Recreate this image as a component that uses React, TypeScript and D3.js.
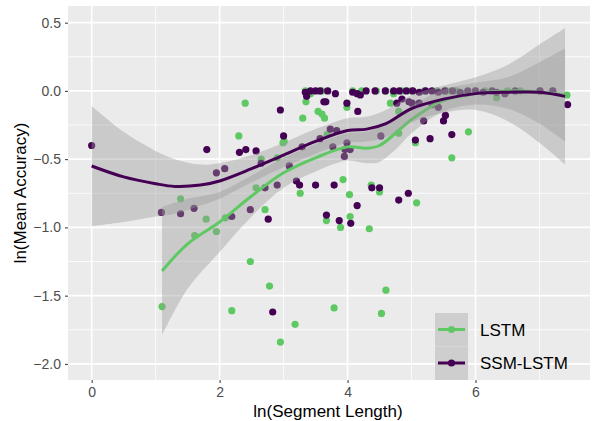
import { useEffect, useRef } from "react";
import * as d3 from "d3";

// scatter points
const lstmX = [1.10, 1.39, 1.61, 1.79, 1.95, 2.09, 2.19, 2.30, 2.40, 2.48, 2.57, 2.65, 2.71, 2.78, 2.90, 2.95, 2.99, 3.01, 3.18, 3.26, 3.30, 3.35, 3.54, 3.60, 3.64, 3.67, 3.68, 3.79, 3.89, 3.93, 3.99, 4.03, 4.04, 4.34, 4.37, 4.50, 4.53, 4.60, 4.67, 4.80, 4.80, 5.06, 5.08, 5.63, 5.89, 6.33, 7.43,
  3.34, 3.42, 3.60, 4.08, 4.22, 4.45, 4.60, 4.72, 4.85, 5.00, 5.20, 5.40, 5.55, 5.70, 5.85, 6.00, 6.15, 6.50, 6.70, 7.00, 7.20];
const lstmY = [-1.58, -0.79, -1.06, -0.94, -1.03, -0.93, -1.61, -0.33, -0.09, -1.25, -0.71, -0.50, -0.87, -1.43, -0.49, -1.84, -0.38, -0.37, -1.71, -0.75, -0.20, -0.08, -0.15, -0.17, -0.20, -0.95, -0.32, -1.59, -1.00, -0.65, -0.12, -0.76, -0.92, -1.01, -0.69, -0.74, -1.63, -1.46, -0.09, -0.31, -0.15, -0.38, -0.82, -0.49, -0.30, -0.05, -0.03,
  0, -0.02, 0, 0, 0, 0, 0, -0.02, 0, 0, 0, 0, 0, 0, -0.02, 0, 0, 0, 0, 0, 0];

const ssmX = [0, 1.09, 1.39, 1.60, 1.80, 1.95, 2.08, 2.31, 2.41, 2.57, 2.65, 2.19, 2.48, 2.76, 2.71, 2.90, 2.95, 3.00, 2.83, 3.09, 3.20, 3.25, 3.50, 3.79, 3.67, 3.87, 4.05, 4.15, 4.38, 4.50, 4.80, 4.95,
  3.34, 3.42, 3.50, 3.57, 3.69, 3.81, 3.36, 3.63, 3.66, 3.99, 4.16, 4.08, 4.15, 4.20, 4.29, 4.43, 4.59, 4.72, 4.81, 4.77, 4.85,
  3.73, 3.83, 3.77, 3.95, 3.96, 4.04, 3.99, 4.52, 3.29, 3.57,
  4.92, 5.02, 5.12, 5.22, 5.32, 5.42, 5.52, 5.64, 5.76, 5.88, 6.00, 6.12, 6.26,
  4.96, 5.01, 5.12, 5.32, 5.42, 5.19, 5.53, 5.50, 5.06, 5.29, 5.63,
  6.33, 6.46, 6.62, 7.01, 7.21, 7.44];
const ssmY = [-0.40, -0.89, -0.90, -0.86, -0.43, -0.60, -0.57, -0.45, -0.43, -0.44, -0.53, -0.92, -0.87, -0.94, -0.71, -0.69, -0.14, -0.33, -1.62, -0.55, -0.66, -0.69, -0.69, -0.69, -0.91, -0.95, -0.97, -0.84, -0.71, -0.71, -0.80, -0.75,
  -0.01, 0, 0, 0, 0, -0.02, -0.04, -0.08, -0.08, -0.09, -0.15, -0.01, -0.02, -0.03, 0, 0, 0, 0, 0, -0.09, -0.06,
  -0.28, -0.29, -0.41, -0.48, -0.43, -0.43, -0.38, -0.33, -0.41, -0.35,
  0, 0, -0.01, 0, 0, -0.01, 0, 0, -0.01, 0, 0, -0.01, 0,
  -0.08, -0.09, -0.09, -0.10, -0.12, -0.22, -0.18, -0.22, -0.36, -0.35, -0.32,
  -0.01, -0.02, 0, 0, 0, -0.10];

// loess fits and confidence bands
const lstmFitX = [1.1, 1.5, 2, 2.5, 3, 3.5, 4, 4.3, 4.5, 4.75, 5, 5.5, 6, 6.5, 7, 7.4];
const lstmFit = [-1.32, -1.12, -0.96, -0.77, -0.60, -0.49, -0.41, -0.42, -0.40, -0.31, -0.21, -0.07, -0.02, 0.0, -0.01, -0.03];
const lstmLo = [-1.79, -1.45, -1.18, -0.92, -0.71, -0.59, -0.51, -0.53, -0.52, -0.43, -0.31, -0.15, -0.10, -0.13, -0.24, -0.37];
const lstmHi = [-0.85, -0.79, -0.74, -0.62, -0.49, -0.39, -0.31, -0.30, -0.26, -0.19, -0.11, 0.01, 0.06, 0.10, 0.21, 0.31];

const ssmFitX = [0, 0.5, 1, 1.3, 1.7, 2, 2.5, 3, 3.5, 4, 4.3, 4.6, 5, 5.5, 6, 6.5, 7, 7.4];
const ssmFit = [-0.55, -0.63, -0.68, -0.70, -0.69, -0.66, -0.57, -0.47, -0.37, -0.29, -0.28, -0.24, -0.13, -0.06, -0.02, -0.01, -0.01, -0.04];
const ssmLo = [-0.99, -0.96, -0.92, -0.90, -0.84, -0.79, -0.67, -0.56, -0.46, -0.38, -0.37, -0.34, -0.23, -0.16, -0.14, -0.22, -0.38, -0.54];
const ssmHi = [-0.11, -0.30, -0.44, -0.50, -0.54, -0.53, -0.47, -0.38, -0.28, -0.20, -0.19, -0.14, -0.03, 0.04, 0.10, 0.19, 0.34, 0.46];

const xTicks = [0, 2, 4, 6];
const xMinor = [1, 3, 5, 7];
const yTicks = [-2.0, -1.5, -1.0, -0.5, 0.0, 0.5];
const yMinor = [-1.75, -1.25, -0.75, -0.25, 0.25];

const seriesNames = ["LSTM", "SSM-LSTM"];
const seriesColors = ["#5ec962", "#440154"];

const App = () => {
  const svgRef = useRef<SVGSVGElement>(null);

  useEffect(() => {
    const svg = d3.select(svgRef.current);
    svg.selectAll("*").remove();
    const font = "Liberation Sans, Arial, Helvetica, sans-serif";

    const left = 68, right = 590, top = 6, bottom = 380;
    const x = d3.scaleLinear().domain([-0.37, 7.79]).range([left, right]);
    const y = d3.scaleLinear().domain([-2.118, 0.622]).range([bottom, top]);

    svg.append("rect").attr("width", 594).attr("height", 421).attr("fill", "#fff");
    svg.append("rect")
      .attr("x", left).attr("y", top)
      .attr("width", right - left).attr("height", bottom - top)
      .attr("fill", "#ebebeb");

    // grid
    const grid = svg.append("g");
    grid.selectAll(".xm").data(xMinor).join("line")
      .attr("x1", d => x(d)).attr("x2", d => x(d)).attr("y1", top).attr("y2", bottom)
      .attr("stroke", "#fff").attr("stroke-width", 0.8);
    grid.selectAll(".ym").data(yMinor).join("line")
      .attr("y1", d => y(d)).attr("y2", d => y(d)).attr("x1", left).attr("x2", right)
      .attr("stroke", "#fff").attr("stroke-width", 0.8);
    grid.selectAll(".xM").data(xTicks).join("line")
      .attr("x1", d => x(d)).attr("x2", d => x(d)).attr("y1", top).attr("y2", bottom)
      .attr("stroke", "#fff").attr("stroke-width", 1.6);
    grid.selectAll(".yM").data(yTicks).join("line")
      .attr("y1", d => y(d)).attr("y2", d => y(d)).attr("x1", left).attr("x2", right)
      .attr("stroke", "#fff").attr("stroke-width", 1.6);

    // points: LSTM first, SSM-LSTM on top
    const pts = svg.append("g");
    pts.selectAll(".p0").data(lstmX).join("circle")
      .attr("cx", d => x(d)).attr("cy", (d, i) => y(lstmY[i])).attr("r", 3.6)
      .attr("fill", seriesColors[0]);
    pts.selectAll(".p1").data(ssmX).join("circle")
      .attr("cx", d => x(d)).attr("cy", (d, i) => y(ssmY[i])).attr("r", 3.6)
      .attr("fill", seriesColors[1]);

    // smooths: ribbon then line per group
    const groups = [
      { fx: lstmFitX, fit: lstmFit, lo: lstmLo, hi: lstmHi },
      { fx: ssmFitX, fit: ssmFit, lo: ssmLo, hi: ssmHi },
    ];
    groups.forEach((g, k) => {
      const area = d3.area<number>()
        .x(d => x(d))
        .y0((d, i) => y(g.lo[i]))
        .y1((d, i) => y(g.hi[i]))
        .curve(d3.curveCatmullRom);
      svg.append("path").attr("d", area(g.fx))
        .attr("fill", "#999999").attr("fill-opacity", 0.4);
      const line = d3.line<number>()
        .x(d => x(d))
        .y((d, i) => y(g.fit[i]))
        .curve(d3.curveCatmullRom);
      svg.append("path").attr("d", line(g.fx))
        .attr("fill", "none").attr("stroke", seriesColors[k])
        .attr("stroke-width", 3);
    });

    // axes
    const xAxis = d3.axisBottom(x).tickValues(xTicks).tickSize(3).tickPadding(4).tickFormat(d3.format("d"));
    const gx = svg.append("g").attr("transform", `translate(0,${bottom})`).call(xAxis);
    gx.select(".domain").remove();
    gx.selectAll("line").attr("stroke", "#333").attr("stroke-width", 1);
    gx.selectAll("text").attr("fill", "#4d4d4d").style("font-size", "14px").style("font-family", font);

    const yAxis = d3.axisLeft(y).tickValues(yTicks).tickSize(3).tickPadding(4).tickFormat(d3.format(".1f"));
    const gy = svg.append("g").attr("transform", `translate(${left},0)`).call(yAxis);
    gy.select(".domain").remove();
    gy.selectAll("line").attr("stroke", "#333").attr("stroke-width", 1);
    gy.selectAll("text").attr("fill", "#4d4d4d").style("font-size", "14px").style("font-family", font)
      .text(d => d3.format(".1f")(d as number).replace("-", "\u2212"));

    svg.append("text")
      .attr("x", (left + right) / 2 - 1).attr("y", 417)
      .attr("text-anchor", "middle").style("font-size", "17px").style("font-family", font)
      .attr("fill", "#000").text("ln(Segment Length)");
    svg.append("text")
      .attr("transform", `translate(26,${(top + bottom) / 2}) rotate(-90)`)
      .attr("text-anchor", "middle").style("font-size", "17px").style("font-family", font)
      .attr("fill", "#000").text("ln(Mean Accuracy)");

    // legend
    const lg = svg.append("g");
    seriesNames.forEach((name, k) => {
      const ky = 313 + k * 33.5;
      lg.append("rect").attr("x", 435).attr("y", ky).attr("width", 33).attr("height", 33.5).attr("fill", "#f2f2f2");
      lg.append("rect").attr("x", 435).attr("y", ky).attr("width", 33).attr("height", 33.5)
        .attr("fill", "#999999").attr("fill-opacity", 0.4);
      lg.append("line").attr("x1", 438).attr("x2", 465).attr("y1", ky + 16.5).attr("y2", ky + 16.5)
        .attr("stroke", seriesColors[k]).attr("stroke-width", 3);
      lg.append("circle").attr("cx", 451.5).attr("cy", ky + 16.5).attr("r", 3.6).attr("fill", seriesColors[k]);
      lg.append("text").attr("x", 480).attr("y", ky + 22.5)
        .style("font-size", "17px").style("font-family", font).attr("fill", "#000").text(name);
    });
  }, []);

  return (
    <svg ref={svgRef} width={594} height={421}
      style={{ position: "absolute", left: 0, top: 0, display: "block" }} />
  );
};

export default App;
